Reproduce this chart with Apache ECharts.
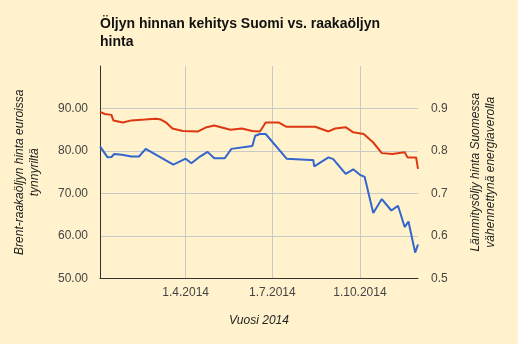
<!DOCTYPE html>
<html>
<head>
<meta charset="utf-8">
<script src="https://cdn.jsdelivr.net/npm/echarts@6/dist/echarts.min.js"></script>
<style>html,body{margin:0;padding:0;background:#fff2cc;}#c{width:518px;height:344px;}</style>
</head>
<body>
<div id="c"></div>
<script>
const brentDates = ['2014-01-01','2014-01-09','2014-01-13','2014-01-16','2014-01-24','2014-02-03','2014-02-11','2014-02-18','2014-03-19','2014-04-01','2014-04-07','2014-04-16','2014-04-24','2014-05-01','2014-05-12','2014-05-19','2014-06-10','2014-06-13','2014-06-18','2014-06-24','2014-07-16','2014-08-10','2014-08-13','2014-08-14','2014-08-29','2014-09-03','2014-09-16','2014-09-24','2014-10-01','2014-10-06','2014-10-15','2014-10-24','2014-11-03','2014-11-10','2014-11-17','2014-11-21','2014-11-28','2014-12-01'];
const brentValues = [81.1,78.5,78.6,79.3,79.1,78.7,78.7,80.5,76.8,78.2,77.1,78.7,79.8,78.3,78.3,80.5,81.2,83.6,84.0,84.0,78.2,77.9,77.9,76.4,78.5,78.1,74.6,75.7,74.4,73.9,65.4,68.7,66.0,67.1,62.1,63.4,56.1,58.0];
const heatDates = ['2014-01-01','2014-01-06','2014-01-13','2014-01-15','2014-01-25','2014-02-03','2014-02-17','2014-03-01','2014-03-06','2014-03-12','2014-03-18','2014-03-29','2014-04-14','2014-04-23','2014-05-01','2014-05-18','2014-05-30','2014-06-10','2014-06-18','2014-06-24','2014-07-08','2014-07-16','2014-08-15','2014-08-29','2014-09-05','2014-09-16','2014-09-24','2014-10-05','2014-10-15','2014-10-24','2014-11-04','2014-11-17','2014-11-20','2014-11-29','2014-12-01'];
const heatValues = [0.892,0.887,0.885,0.872,0.867,0.872,0.874,0.876,0.874,0.866,0.853,0.847,0.846,0.856,0.860,0.850,0.853,0.847,0.846,0.867,0.867,0.857,0.857,0.846,0.853,0.856,0.844,0.840,0.820,0.795,0.793,0.797,0.785,0.785,0.758];
const xTickDates = ['2014-04-01','2014-07-01','2014-10-01'];
const leftTicks = [50,60,70,80,90,100];
const rightTicks = [0.5,0.6,0.7,0.8,0.9,1.0];

function ts(s){const p=s.split('-').map(Number);return Date.UTC(p[0],p[1]-1,p[2]);}
const chart = echarts.init(document.getElementById('c'), null, {renderer:'canvas'});
const lbl = {fontFamily:'Liberation Sans, Arial, sans-serif', fontSize:12, color:'#444'};
const nm = {fontFamily:'Liberation Sans, Arial, sans-serif', fontSize:12, fontStyle:'italic', color:'#222', lineHeight:15};
chart.setOption({
  backgroundColor:'#fff2cc',
  animation:false,
  title:{text:'Öljyn hinnan kehitys Suomi vs. raakaöljyn\nhinta', left:100, top:15, padding:0,
    textStyle:{fontFamily:'Liberation Sans, Arial, sans-serif', fontSize:14, fontWeight:'bold', color:'#111', lineHeight:18}},
  grid:{left:100, right:100, top:66, bottom:65.5, containLabel:false},
  xAxis:{type:'value', min:ts('2014-01-01'), max:ts('2014-12-01'),
    name:'Vuosi 2014', nameLocation:'middle', nameGap:35, nameTextStyle:nm,
    axisLine:{show:true, lineStyle:{color:'#333', width:1}},
    axisTick:{show:false, customValues:xTickDates.map(ts)},
    axisLabel:Object.assign({customValues:xTickDates.map(ts), margin:8, formatter:function(v){const d=new Date(v);return d.getUTCDate()+'.'+(d.getUTCMonth()+1)+'.'+d.getUTCFullYear();}}, lbl),
    splitLine:{show:true, lineStyle:{color:'#c8c8c8', width:1}}},
  yAxis:[
    {type:'value', min:leftTicks[0], max:leftTicks[leftTicks.length-1], interval:10, position:'left',
     name:'Brent-raakaöljyn hinta euroissa\ntynnyriltä', nameLocation:'middle', nameRotate:90, nameGap:58, nameTextStyle:nm,
     axisLine:{show:true, lineStyle:{color:'#333', width:1}}, axisTick:{show:false},
     axisLabel:Object.assign({margin:12, showMaxLabel:false, formatter:function(v){return v.toFixed(2);}}, lbl),
     splitLine:{show:true, lineStyle:{color:['#c8c8c8','#c8c8c8','#c8c8c8','#c8c8c8','#c8c8c8','rgba(0,0,0,0)'], width:1}}},
    {type:'value', min:rightTicks[0], max:rightTicks[rightTicks.length-1], interval:0.1, position:'right',
     name:'Lämmitysöljy hinta Suomessa\nvähennettynä energiaverolla', nameLocation:'middle', nameRotate:90, nameGap:50, nameTextStyle:nm,
     axisLine:{show:false}, axisTick:{show:false},
     axisLabel:Object.assign({margin:13, showMaxLabel:false, formatter:function(v){return v.toFixed(1);}}, lbl),
     splitLine:{show:false}}
  ],
  series:[
    {name:'Brent', type:'line', yAxisIndex:0, showSymbol:false, symbol:'none', lineStyle:{color:'#3366cc', width:2}, itemStyle:{color:'#3366cc'},
     data:brentDates.map((d,i)=>[ts(d), brentValues[i]])},
    {name:'Lämmitysöljy', type:'line', yAxisIndex:1, showSymbol:false, symbol:'none', lineStyle:{color:'#dc3912', width:2}, itemStyle:{color:'#dc3912'},
     data:heatDates.map((d,i)=>[ts(d), heatValues[i]])}
  ]
});
</script>
</body>
</html>
